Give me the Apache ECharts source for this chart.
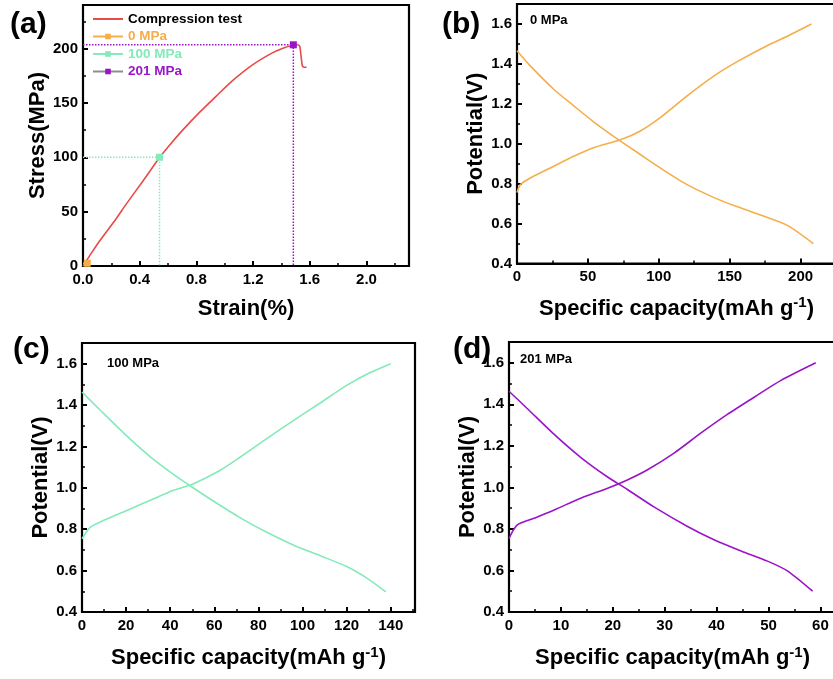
<!DOCTYPE html>
<html>
<head>
<meta charset="utf-8">
<script src="https://cdn.jsdelivr.net/npm/echarts@6/dist/echarts.min.js"></script>
<style>
html,body{margin:0;padding:0;background:#fff;}
#c{width:833px;height:679px;}
</style>
</head>
<body>
<div id="c"></div>
<script>
// ---------- DATA ----------
// (a) compression test
var strain = [0, 0.05, 0.117, 0.234, 0.3, 0.422, 0.539, 0.6, 0.7, 0.82, 0.95, 1.055, 1.196, 1.336, 1.42, 1.484, 1.51, 1.528, 1.535, 1.542, 1.548, 1.56, 1.577];
var stress = [0, 10, 23, 43.5, 56, 78, 99.5, 109.5, 124.5, 141, 157.5, 170.5, 185, 196, 200.8, 203, 203.5, 202.5, 197, 189, 184, 182.8, 182.8];
var markerNames = ['0 MPa', '100 MPa', '201 MPa'];
var markerStrain = [0.03, 0.54, 1.484];
var markerStress = [2.5, 100, 203.4];

// (b) 0 MPa
var b_dis_cap = [0, 9.4, 25.9, 40, 54, 73, 87, 101, 120, 139, 155, 176, 191, 209];
var b_dis_v   = [1.466, 1.39, 1.273, 1.19, 1.11, 1.013, 0.946, 0.879, 0.795, 0.73, 0.685, 0.632, 0.59, 0.50];
var b_chg_cap = [0, 2.4, 9.4, 25.9, 40, 54, 73, 87, 101, 120, 139, 155, 176, 191, 207.7];
var b_chg_v   = [0.756, 0.795, 0.828, 0.887, 0.937, 0.98, 1.02, 1.064, 1.131, 1.24, 1.34, 1.41, 1.49, 1.54, 1.6];

// (c) 100 MPa
var c_dis_cap = [0, 8.3, 20.4, 31, 41.5, 49, 59.7, 71.8, 83.8, 96, 108, 120, 129, 137.8];
var c_dis_v   = [1.463, 1.375, 1.25, 1.15, 1.065, 1.01, 0.935, 0.855, 0.785, 0.723, 0.672, 0.62, 0.565, 0.497];
var c_chg_cap = [0, 3.8, 8.3, 20.4, 31, 41.5, 50.6, 62.7, 71.8, 83.8, 96, 108, 120, 130.7, 140];
var c_chg_v   = [0.754, 0.81, 0.835, 0.891, 0.94, 0.988, 1.02, 1.085, 1.149, 1.238, 1.326, 1.41, 1.495, 1.557, 1.6];

// (d) 201 MPa
var d_dis_cap = [0, 3.5, 8.7, 13.8, 19, 22.8, 28, 34.4, 39.5, 44.7, 49.8, 53.7, 58.5];
var d_dis_v   = [1.463, 1.38, 1.255, 1.145, 1.05, 0.99, 0.905, 0.812, 0.748, 0.694, 0.645, 0.597, 0.50];
var d_chg_cap = [0, 1.6, 4.8, 8.7, 13.8, 19, 22.8, 26.7, 31.8, 37, 42, 47.3, 52.4, 59.1];
var d_chg_v   = [0.754, 0.819, 0.851, 0.891, 0.948, 0.996, 1.036, 1.085, 1.165, 1.262, 1.35, 1.435, 1.515, 1.6];

// ---------- STYLE ----------
var FONT = "'Liberation Sans', Arial, sans-serif";
var RED = '#e84a47', ORANGE = '#f5ae4a', GREEN = '#84eab8', PURPLE = '#9a14c8';
var markerColors = [ORANGE, GREEN, PURPLE];

function zip(a, b) { return a.map(function (v, i) { return [v, b[i]]; }); }

function xAxisDef(gi, max, interval, name, nameGap, dec) {
  return {
    type: 'value', gridIndex: gi, min: 0, max: max, interval: interval,
    name: name, nameLocation: 'middle', nameGap: nameGap,
    nameTextStyle: {
      fontFamily: FONT, fontSize: 22, fontWeight: 'bold', color: '#000',
      rich: {
        a: { fontFamily: FONT, fontSize: 22, fontWeight: 'bold', color: '#000', lineHeight: 26 },
        s: { fontFamily: FONT, fontSize: 15, fontWeight: 'bold', color: '#000', verticalAlign: 'top', lineHeight: 12 }
      }
    },
    axisLine: { show: true, onZero: false, lineStyle: { color: '#000', width: 2 } },
    axisTick: { show: true, inside: true, length: 5, lineStyle: { color: '#000', width: 2 } },
    minorTick: { show: true, splitNumber: 2, length: 3, lineStyle: { color: '#000', width: 1.5 } },
    splitLine: { show: false }, minorSplitLine: { show: false },
    axisLabel: {
      show: true, margin: 6, showMaxLabel: false, showMinLabel: true,
      fontFamily: FONT, fontSize: 15, fontWeight: 'bold', color: '#000',
      formatter: function (v) { return dec ? v.toFixed(dec) : String(v); }
    }
  };
}
function yAxisDef(gi, min, max, interval, name, nameGap, dec) {
  return {
    type: 'value', gridIndex: gi, min: min, max: max, interval: interval,
    name: name, nameLocation: 'middle', nameGap: nameGap,
    nameTextStyle: { fontFamily: FONT, fontSize: 22, fontWeight: 'bold', color: '#000' },
    axisLine: { show: true, onZero: false, lineStyle: { color: '#000', width: 2 } },
    axisTick: { show: true, inside: true, length: 5, lineStyle: { color: '#000', width: 2 } },
    minorTick: { show: true, splitNumber: 2, length: 3, lineStyle: { color: '#000', width: 1.5 } },
    splitLine: { show: false }, minorSplitLine: { show: false },
    axisLabel: {
      show: true, margin: 5, showMaxLabel: false, showMinLabel: true,
      fontFamily: FONT, fontSize: 15, fontWeight: 'bold', color: '#000',
      formatter: function (v) { return dec ? v.toFixed(dec) : String(v); }
    }
  };
}
function gridDef(l, t, w, h) {
  return { left: l, top: t, width: w, height: h, show: true, borderColor: '#000', borderWidth: 2.2,
           backgroundColor: 'transparent', containLabel: false, outerBoundsMode: 'none' };
}
function curve(name, gi, xs, ys, color) {
  return { type: 'line', name: name, xAxisIndex: gi, yAxisIndex: gi, data: zip(xs, ys),
           symbol: 'none', smooth: 0.25,
           lineStyle: { color: color, width: 1.6 }, itemStyle: { color: color }, z: 3, silent: true };
}

var capName = '{a|Specific capacity(mAh g}{s|-1}{a|)}';

var series = [];
series.push(curve('Compression test', 0, strain, stress, RED));
// guide lines and markers
markerNames.forEach(function (n, i) {
  series.push({
    type: 'line', name: n + ' guide', xAxisIndex: 0, yAxisIndex: 0,
    data: [[0, markerStress[i]], [markerStrain[i], markerStress[i]], [markerStrain[i], 0]],
    symbol: 'none', lineStyle: { color: markerColors[i], width: 1.5, type: 'dotted' }, z: 2, silent: true
  });
});
markerNames.forEach(function (n, i) {
  series.push({
    type: 'line', name: n, xAxisIndex: 0, yAxisIndex: 0,
    data: [[markerStrain[i], markerStress[i]]],
    symbol: 'rect', symbolSize: 7, showSymbol: true,
    lineStyle: { color: markerColors[i], width: 1.5 }, itemStyle: { color: markerColors[i] }, z: 5, silent: true
  });
});
series.push(curve('b dis', 1, b_dis_cap, b_dis_v, ORANGE));
series.push(curve('b chg', 1, b_chg_cap, b_chg_v, ORANGE));
series.push(curve('c dis', 2, c_dis_cap, c_dis_v, GREEN));
series.push(curve('c chg', 2, c_chg_cap, c_chg_v, GREEN));
series.push(curve('d dis', 3, d_dis_cap, d_dis_v, PURPLE));
series.push(curve('d chg', 3, d_chg_cap, d_chg_v, PURPLE));

function txt(s, x, y, size) {
  return { type: 'text', x: x, y: y, silent: true,
           style: { text: s, font: 'bold ' + size + 'px ' + FONT, fill: '#000', align: 'left', verticalAlign: 'middle' } };
}

var option = {
  animation: false,
  backgroundColor: '#fff',
  grid: [gridDef(83, 5, 326, 261), gridDef(517, 4, 319, 259.5), gridDef(82, 343, 333, 269), gridDef(509, 342, 327, 270)],
  xAxis: [
    xAxisDef(0, 2.3, 0.4, 'Strain(%)', 32, 1),
    xAxisDef(1, 225, 50, capName, 32, 0),
    xAxisDef(2, 151, 20, capName, 33, 0),
    xAxisDef(3, 63, 10, capName, 33, 0)
  ],
  yAxis: [
    yAxisDef(0, 0, 240, 50, 'Stress(MPa)', 34, 0),
    yAxisDef(1, 0.4, 1.7, 0.2, 'Potential(V)', 29, 1),
    yAxisDef(2, 0.4, 1.7, 0.2, 'Potential(V)', 30, 1),
    yAxisDef(3, 0.4, 1.7, 0.2, 'Potential(V)', 30, 1)
  ],
  legend: {
    show: true, orient: 'vertical', left: 92, top: 12, padding: 0,
    itemWidth: 30, itemHeight: 7, itemGap: 3.5, selectedMode: false,
    textStyle: { fontFamily: FONT, fontSize: 13.5, fontWeight: 'bold', color: '#000' },
    data: [
      { name: 'Compression test', itemStyle: { opacity: 0 }, textStyle: { color: '#000' } },
      { name: '0 MPa', textStyle: { color: ORANGE } },
      { name: '100 MPa', textStyle: { color: GREEN } },
      { name: '201 MPa', lineStyle: { color: '#8c8c8c', type: 'solid' }, textStyle: { color: PURPLE } }
    ]
  },
  graphic: [
    txt('(a)', 10, 25, 30),
    txt('(b)', 442, 25, 30),
    txt('(c)', 13, 350, 30),
    txt('(d)', 453, 350, 30),
    txt('0 MPa', 530, 20, 13),
    txt('100 MPa', 107, 363, 13),
    txt('201 MPa', 520, 359, 13)
  ],
  series: series
};

var chart = echarts.init(document.getElementById('c'), null, { renderer: 'canvas', width: 833, height: 679 });
chart.setOption(option);
</script>
</body>
</html>
